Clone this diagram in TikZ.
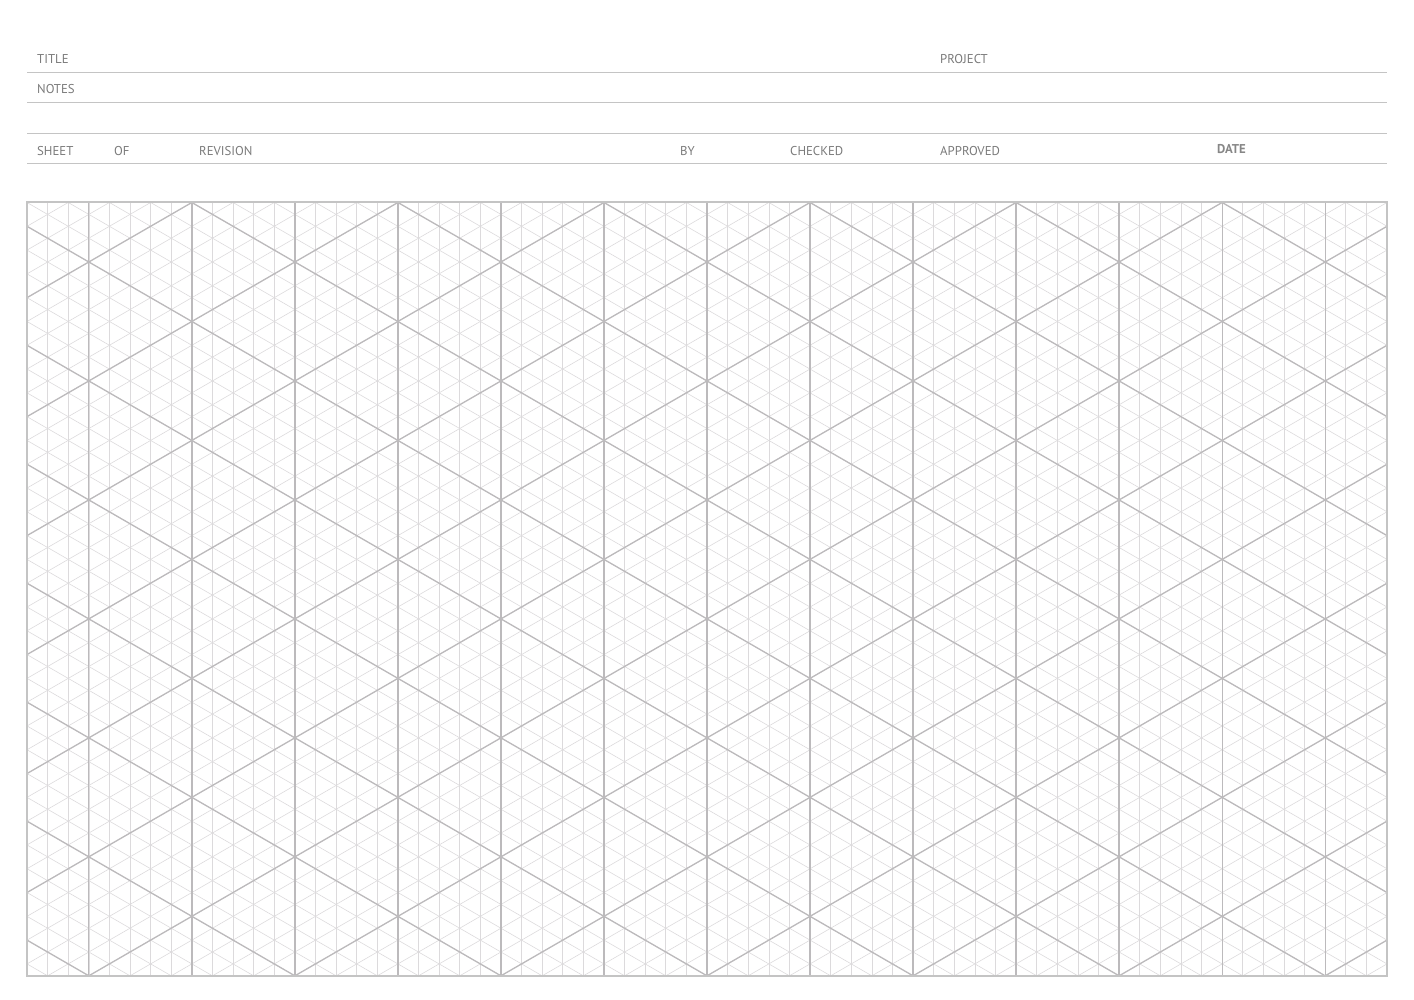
\documentclass[tikz,border=0pt]{standalone}
\usepackage{fontspec}
\setmainfont{PT Sans}
\usepackage{tikz}

\definecolor{labelgray}{HTML}{7A7A7A}
\definecolor{rulegray}{HTML}{C4C4C4}
\definecolor{minorgray}{HTML}{DCDADC}
\definecolor{majorgray}{HTML}{BCBABC}

% grid: column width, triangle side, frame edges
\def\colw{20.606}
\def\side{23.794}
\def\fl{27}
\def\fr{1387}
\def\ft{202.5}
\def\fb{975.8}

\begin{document}
\begin{tikzpicture}[x=1pt, y=-1pt, field/.style={anchor=base west, inner sep=0pt, text=labelgray, font=\fontsize{12.8}{14}\selectfont}, rule/.style={draw=rulegray, line width=1pt}, minor/.style={draw=minorgray, line width=0.6pt}, major/.style={draw=majorgray, line width=1.3pt}, frame/.style={draw=rulegray, line width=2pt}]
					\useasboundingbox (0,0) rectangle (1414,1000);
					
					\node[field] (title) at (37,63.3){TITLE};
					\node[field] (project) at (940,63.3){PROJECT};
					\node[field] (notes) at (37,94){NOTES};
					
					\node[field] (sheet) at (37,155.3){SHEET};
					\node[field] (of) at (114,155.3){OF};
					\node[field] (revision) at (199,155.3){REVISION};
					\node[field] (by) at (680,155.3){BY};
					\node[field] (checked) at (790,155.3){CHECKED};
					\node[field] (approved) at (940,155.3){APPROVED};
					\node[field, font=\fontsize{12.8}{14}\selectfont\bfseries, text=labelgray!90] (date) at (1217,153.5){DATE};
					
					\foreach \y in {73,103,134,164}
						\draw[rule] (\fl,\y) -- (\fr,\y);
					
					\begin{scope}
						\clip (\fl,\ft) rectangle (\fr,\fb);
						% minor lines
						\foreach \i in {1,...,65}
							\draw[minor] ({\fl+\i*\colw},\ft) -- ({\fl+\i*\colw},\fb);
						\foreach \j in {-33,...,33}
							\draw[minor] (\fl,{\ft+\j*\side}) -- (\fr,{\ft+(\j+33)*\side});
						\foreach \j in {0,...,66}
							\draw[minor] (\fl,{\ft+\j*\side}) -- (\fr,{\ft+(\j-33)*\side});
						% major lines
						\foreach \i in {3,8,...,63}
							\draw[major] ({\fl+\i*\colw},\ft) -- ({\fl+\i*\colw},\fb);
						\foreach \j in {-29,-24,...,31}
							\draw[major] (\fl,{\ft+\j*\side}) -- (\fr,{\ft+(\j+33)*\side});
						\foreach \j in {4,9,...,64}
							\draw[major] (\fl,{\ft+\j*\side}) -- (\fr,{\ft+(\j-33)*\side});
					\end{scope}
					
					\draw[frame] (\fl,\ft) rectangle (\fr,\fb);
					\end{tikzpicture}
\end{document}
